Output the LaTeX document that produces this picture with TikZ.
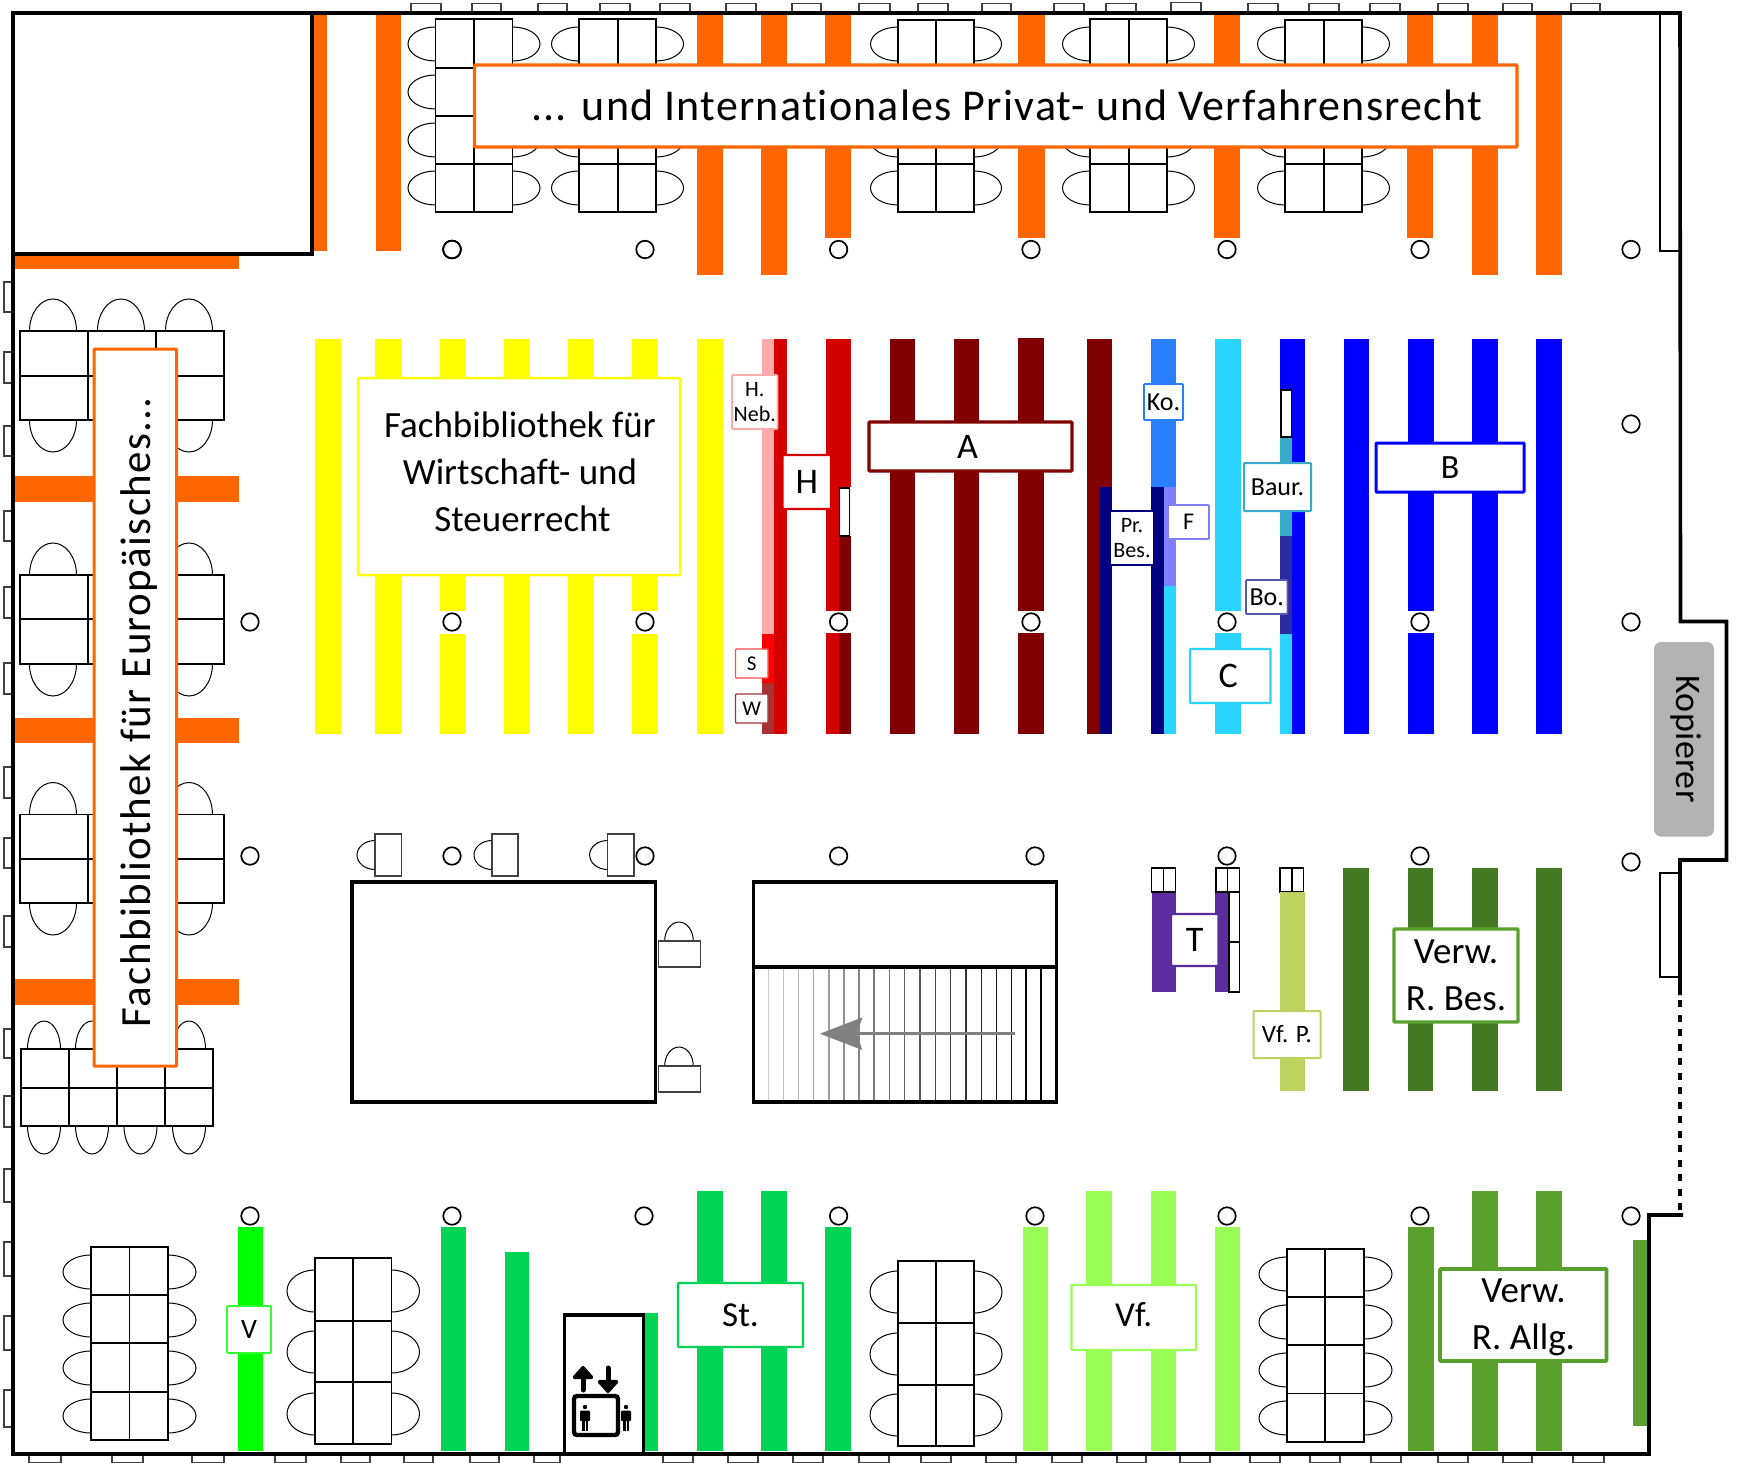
\documentclass[tikz,border=0pt]{standalone}
\usepackage{fontspec}
\setmainfont{Carlito}[Ligatures=CommonOff]
\usetikzlibrary{arrows.meta}
\definecolor{orng}{HTML}{FF6600}
\definecolor{yel}{HTML}{FFFF00}
\definecolor{pink}{HTML}{FFAAAA}
\definecolor{redA}{HTML}{FF0000}
\definecolor{redB}{HTML}{D40000}
\definecolor{brownW}{HTML}{A83232}
\definecolor{maroon}{HTML}{800000}
\definecolor{navy}{HTML}{000080}
\definecolor{koblue}{HTML}{2A7FFF}
\definecolor{lilac}{HTML}{8080FF}
\definecolor{cyanC}{HTML}{2AD4FF}
\definecolor{blueB}{HTML}{0000FF}
\definecolor{baur}{HTML}{37ABC8}
\definecolor{bo}{HTML}{2C2CA0}
\definecolor{purpleT}{HTML}{5B2D9E}
\definecolor{vfp}{HTML}{BCD35F}
\definecolor{dgreen}{HTML}{447821}
\definecolor{mgreen}{HTML}{5AA02C}
\definecolor{lgreen}{HTML}{99FF55}
\definecolor{stgreen}{HTML}{00D455}
\definecolor{vgreen}{HTML}{00FF00}
\definecolor{copier}{HTML}{B3B3B3}
\tikzset{
  x=1pt,y=-1pt,
  winbox/.style={draw=black!75,fill=white,line width=1.1pt},
  chairshape/.style={draw=black,fill=white,line width=1pt},
  tablebox/.style={draw=black,fill=white,line width=1.3pt},
  whitebox/.style={draw=black,fill=white,line width=1.5pt},
  wall/.style={draw=black,line width=3.6pt,line join=miter},
  roombox/.style={draw=black,fill=white,line width=3.6pt},
  pillar/.style={draw=black,fill=white,line width=1.7pt,circle,minimum size=17.5pt,inner sep=0pt},
  lab/.style={fill=white,inner sep=0pt,align=center,text=black,rounded corners=0.8pt},
  labtext/.style={inner sep=0pt,align=center,text=black},
  fs/.style 2 args={font=\fontsize{#1}{#2}\selectfont},
}
\newcommand{\shelf}[5]{\fill[#5] (#1,#3) rectangle (#2,#4);}
\newcommand{\tabrows}[4]{\foreach \ra/\rb in {#4}{\draw[tablebox] (#1,\ra) rectangle (#2,\rb);\draw[tablebox] (#2,\ra) rectangle (#3,\rb);}}
\newcommand{\chairrow}[5]{\foreach \cy in {#5}{\draw[chairshape] (#1,\cy) ellipse [x radius=#3,y radius=#4];\draw[chairshape] (#2,\cy) ellipse [x radius=#3,y radius=#4];}}
\newcommand{\chairsv}[5]{\foreach \cx in {#5}{\draw[chairshape] (\cx,#1) ellipse [x radius=#3,y radius=#4];\draw[chairshape] (\cx,#2) ellipse [x radius=#3,y radius=#4];}}
\newcommand{\person}[1]{\fill[black] (#1,1407) circle [radius=2.2];
  \fill[black,rounded corners=1pt] (#1-5,1410.5) rectangle (#1+5,1421);
  \fill[black] (#1-3.4,1420) rectangle (#1-0.5,1431);
  \fill[black] (#1+0.5,1420) rectangle (#1+3.4,1431);}
\newcommand{\tnode}[7]{%
  \pgfmathsetmacro{\lcx}{(#2+#4)/2}\pgfmathsetmacro{\lcy}{(#3+#5)/2}%
  \pgfmathsetmacro{\lw}{#4-#2}\pgfmathsetmacro{\lh}{#5-#3}%
  \node[lab,draw=#6,minimum width=\lw pt,minimum height=\lh pt,#7] (#1) at (\lcx,\lcy)}
\begin{document}
\begin{tikzpicture}
\useasboundingbox (0,0) rectangle (1737,1463);
\fill[white] (0,0) rectangle (1737,1463);
% windows top
\foreach \a/\b in {411/441,472/501,538/567,600/630,660/690,726/756,792/821,859/890,918/948,982/1011,1054/1084,1106/1136,1248/1278,1309/1339,1370/1400,1438/1468,1503/1532,1571/1600}
  \draw[winbox] (\a,3.5) rectangle (\b,13);
\draw[winbox] (1171,2.5) rectangle (1201,13);
% windows left
\foreach \a/\b in {282/312,352/383,426/456,511/541,587/618,663/694,767/798,838/868,916/947,1029/1058,1096/1127,1169/1202,1242/1276,1316/1350,1390/1427}
  \draw[winbox] (4,\a) rectangle (13,\b);
% windows bottom
\foreach \a/\b in {29/61,112/143,192/224,275/306,341/370,404/433,470/499,534/560,663/693,728/758,793/823,859/889,921/951,986/1016,1052/1082,1117/1146,1180/1210,1250/1280,1310/1340,1371/1401,1438/1468,1503/1532,1573/1604}
  \draw[winbox] (\a,1454) rectangle (\b,1462.5);
% chairs and tables: top
\chairrow{435.5}{512.5}{27.5}{17}{44,92,140,188}
\tabrows{435.5}{474}{512.5}{19/68,68/116,116/164,164/212}
\chairrow{579}{656}{27.5}{17}{44,92,140,188}
\tabrows{579}{618}{656}{19/68,68/116,116/164,164/212}
\chairrow{898}{974}{27.5}{17}{44,92,140,188}
\tabrows{898}{936}{974}{20/68,68/116,116/164,164/212}
\chairrow{1090}{1167}{27.5}{17}{44,92,140,188}
\tabrows{1090}{1129}{1167}{19/68,68/116,116/164,164/212}
\chairrow{1285}{1362}{27.5}{17}{44,92,140,188}
\tabrows{1285}{1324}{1362}{20/68,68/116,116/164,164/212}
% chairs and tables: left
\chairsv{331}{420}{23.5}{32}{53,121,189}
\chairsv{575}{664}{23.5}{32}{53,121,189}
\chairsv{814.5}{903}{23.5}{32}{53,121,189}
\foreach \ya/\yb/\yc in {331/376/420,575/619/664,814.5/859/903}{
  \foreach \xa/\xb in {20/88,88/156,156/224}{
    \draw[tablebox] (\xa,\ya) rectangle (\xb,\yb);
    \draw[tablebox] (\xa,\yb) rectangle (\xb,\yc);}}
\chairsv{1049}{1126}{16.5}{28}{44,92,140.5,189}
\foreach \xa/\xb in {21/69,69/117,117/165,165/213}{
  \draw[tablebox] (\xa,1049) rectangle (\xb,1088);
  \draw[tablebox] (\xa,1088) rectangle (\xb,1126);}
% chairs and tables: bottom
\chairrow{91}{168}{28}{17}{1272,1320,1368,1416}
\tabrows{91}{129.5}{168}{1247/1295,1295/1343,1343/1392,1392/1440}
\chairrow{315}{391.5}{28}{21}{1291,1352,1414}
\tabrows{315}{353}{391.5}{1258/1321,1321/1382,1382/1444}
\chairrow{898}{974}{28}{21}{1292,1354,1415}
\tabrows{898}{936}{974}{1261/1323,1323/1385,1385/1446}
\chairrow{1287}{1364}{28}{17}{1274,1322,1370,1418}
\tabrows{1287}{1325}{1364}{1249/1297,1297/1345,1345/1393.5,1393.5/1442}
% single desks at the big room
\foreach \cxe/\xa/\xb in {375/375/401.6,492/492/518,607.6/607.6/634}{
  \draw[chairshape] (\cxe,855) ellipse [x radius=18,y radius=14.5];
  \draw[tablebox,line width=1.1pt,draw=black!75] (\xa,834) rectangle (\xb,876);}
\foreach \yt/\yb in {941/967,1066/1092}{
  \draw[chairshape] (679,\yt) ellipse [x radius=14.3,y radius=19];
  \draw[tablebox,line width=1.1pt,draw=black!75] (658.5,\yt) rectangle (700.6,\yb);}
% orange shelves
\shelf{313}{327}{15}{251}{orng}
\shelf{376}{401}{15}{251}{orng}
\shelf{15}{239}{256}{269}{orng}
\shelf{15}{239}{476}{502}{orng}
\shelf{15}{239}{718}{743}{orng}
\shelf{15}{239}{979}{1005}{orng}
\foreach \a/\b/\e in {697/723/275,761/787/275,825/851/238,1018/1045/238,1214/1240/238,1407/1433/238,1472/1498/275,1536/1562/275}
  \shelf{\a}{\b}{15}{\e}{orng}
% yellow shelves
\foreach \a/\b in {315/341,375/402,504/530,568/594,697/723}
  \shelf{\a}{\b}{339}{734}{yel}
\foreach \a/\b in {440/465.5,632/658}{
  \shelf{\a}{\b}{339}{611}{yel}
  \shelf{\a}{\b}{634}{734}{yel}}
% red group
\shelf{761.5}{774}{339}{634}{pink}
\shelf{761.5}{774}{634}{683}{redA}
\shelf{761.5}{774}{683}{734}{brownW}
\shelf{774}{786.5}{339}{734}{redB}
\shelf{826}{838.6}{339}{611}{redB}
\shelf{826}{838.6}{633}{734}{redB}
\shelf{838.6}{850.6}{339}{487}{redB}
\shelf{838.6}{850.6}{536}{611}{maroon}
\shelf{838.6}{850.6}{633}{734}{maroon}
\draw[whitebox] (839.5,488) rectangle (849.5,536);
% maroon group
\shelf{890}{915}{339}{734}{maroon}
\shelf{954}{979}{339}{734}{maroon}
\shelf{1018}{1044}{338}{611}{maroon}
\shelf{1018}{1044}{633}{734}{maroon}
\shelf{1087}{1099.5}{339}{734}{maroon}
\shelf{1099.5}{1112}{339}{487}{maroon}
\shelf{1099.5}{1112}{487}{734}{navy}
% blue / cyan group
\shelf{1151}{1176}{339}{487}{koblue}
\shelf{1151}{1164}{487}{734}{navy}
\shelf{1164}{1176}{487}{586}{lilac}
\shelf{1164}{1176}{586}{734}{cyanC}
\shelf{1215}{1240.5}{339}{611}{cyanC}
\shelf{1215}{1240.5}{633}{734}{cyanC}
\shelf{1280}{1304.5}{339}{734}{blueB}
\shelf{1280}{1292}{437}{536}{baur}
\shelf{1280}{1292}{536}{634}{bo}
\shelf{1280}{1292}{634}{734}{cyanC}
\draw[whitebox] (1281,390) rectangle (1291.5,437);
\shelf{1344}{1369}{339}{734}{blueB}
\shelf{1408}{1433.5}{339}{611}{blueB}
\shelf{1408}{1433.5}{633}{734}{blueB}
\shelf{1472}{1498}{339}{734}{blueB}
\shelf{1536}{1562}{339}{734}{blueB}
% T / Vf. P. / Verw. R. Bes.
\shelf{1151.5}{1175.5}{892}{992}{purpleT}
\shelf{1215}{1229}{892}{992}{purpleT}
\foreach \a/\b in {1151.5/1163.5,1163.5/1175.5,1216/1227.6,1227.6/1239.4,1280/1292,1292/1303.7}
  \draw[whitebox] (\a,868) rectangle (\b,892);
\draw[whitebox] (1229,892) rectangle (1239.4,942);
\draw[whitebox] (1229,942) rectangle (1239.4,992);
\shelf{1280}{1304.5}{892}{1091}{vfp}
\foreach \a/\b in {1343/1368.7,1407.7/1433,1472/1497.6,1536/1561.8}
  \shelf{\a}{\b}{867.5}{1091}{dgreen}
% bottom shelves
\shelf{238}{262.5}{1227}{1451}{vgreen}
\shelf{440.5}{465.5}{1227}{1451}{stgreen}
\shelf{504.5}{529}{1252}{1451}{stgreen}
\shelf{645}{657.7}{1313}{1451}{stgreen}
\shelf{697}{723}{1191}{1451}{stgreen}
\shelf{761}{787}{1191}{1451}{stgreen}
\shelf{825}{851}{1227}{1451}{stgreen}
\shelf{1022.5}{1048}{1227}{1451}{lgreen}
\shelf{1086}{1112}{1191}{1451}{lgreen}
\shelf{1150.5}{1176}{1191}{1451}{lgreen}
\shelf{1215}{1240}{1227}{1451}{lgreen}
\shelf{1408}{1433.7}{1227}{1451}{mgreen}
\shelf{1472}{1497.6}{1191}{1451}{mgreen}
\shelf{1536}{1562}{1191}{1451}{mgreen}
\shelf{1633.3}{1646.7}{1240}{1426}{mgreen}
% pillars
\node[pillar] (p01) at (452,249.5) {};
\node[pillar] (p02) at (645,249.5) {};
\node[pillar] (p03) at (838.6,249.5) {};
\node[pillar] (p04) at (1031,249.5) {};
\node[pillar] (p05) at (1227,249.5) {};
\node[pillar] (p06) at (1420,249.5) {};
\node[pillar] (p07) at (1631,249.5) {};
\node[pillar] (p08) at (1631,424) {};
\node[pillar] (p09) at (250,622) {};
\node[pillar] (p10) at (452,622) {};
\node[pillar] (p11) at (645,622) {};
\node[pillar] (p12) at (838.6,622) {};
\node[pillar] (p13) at (1031,622) {};
\node[pillar] (p14) at (1227,622) {};
\node[pillar] (p15) at (1420,622) {};
\node[pillar] (p16) at (1631,622) {};
\node[pillar] (p17) at (250,856) {};
\node[pillar] (p18) at (452,856) {};
\node[pillar] (p19) at (645,856) {};
\node[pillar] (p20) at (838.6,856) {};
\node[pillar] (p21) at (1035,856) {};
\node[pillar] (p22) at (1227,856) {};
\node[pillar] (p23) at (1420,856) {};
\node[pillar] (p24) at (1631,862) {};
\node[pillar] (p25) at (250,1216) {};
\node[pillar] (p26) at (452,1216) {};
\node[pillar] (p27) at (644,1216) {};
\node[pillar] (p28) at (838.6,1216) {};
\node[pillar] (p29) at (1035,1216) {};
\node[pillar] (p30) at (1227,1216) {};
\node[pillar] (p31) at (1420,1216) {};
\node[pillar] (p32) at (1631,1216) {};
% rooms
\draw[roombox,line width=4.2pt] (13,13) rectangle (312,254);
\draw[roombox] (352,882) rectangle (655.5,1102);
\draw[roombox] (753.5,882) rectangle (1056.5,1102);
\foreach \n [count=\i from 0] in {768.5,783.5,798.5,813.5,829,844,859,874,889.5,904.5,920,935.5,950.5,966,981.5,996.5,1011.5,1026,1041}{
  \pgfmathsetmacro{\shade}{min(100,20+\i*4.6)}
  \draw[black!\shade,line width=1.6pt] (\n,969) -- (\n,1100);}
\draw[draw=black,line width=3.6pt] (753.5,967) -- (1056.5,967);
\draw[roombox,fill=none] (753.5,882) rectangle (1056.5,1102);
\coordinate (arrowstart) at (1015,1033.7);
\coordinate (arrowtip) at (820,1033.7);
\draw[draw=black!50,line width=3pt,-{Stealth[length=42pt,width=32pt,inset=5pt]}] (arrowstart) -- (arrowtip);
% elevator
\draw[roombox] (564.5,1315) rectangle (643.3,1454);
\draw[draw=black,line width=4.4pt,rounded corners=3pt] (574,1396) rectangle (618,1435);
\person{585}
\person{626}
\coordinate (upstart) at (583,1390);
\coordinate (uptip) at (583,1366);
\coordinate (downstart) at (608,1368);
\coordinate (downtip) at (608,1393);
\draw[draw=black,line width=5pt,line cap=round,-{Triangle[length=14pt,width=24pt,round]}] (upstart) -- (uptip);
\draw[draw=black,line width=5pt,line cap=round,-{Triangle[length=14pt,width=24pt,round]}] (downstart) -- (downtip);
% right-hand boxes and walls
\draw[whitebox] (1660,13) rectangle (1680,251);
\draw[whitebox] (1660,873) rectangle (1680,977);
\draw[wall] (1680,995) -- (1680,860) -- (1726.5,860) -- (1726.5,621.5) -- (1680.5,621.5) -- (1680,13) -- (13,13) -- (13,1454) -- (1649,1454) -- (1649,1215) -- (1683,1215);
\draw[draw=black,line width=3.6pt,dash pattern=on 7pt off 7.5pt] (1680,1000) -- (1680,1213);
\fill[copier,rounded corners=7pt] (1654,642) rectangle (1714,836.5);
% labels
\tnode{lTop}{474.5}{65}{1517}{147}{orng}{line width=3.2pt,fs={44}{48}} {\raisebox{2pt}{\addfontfeature{LetterSpace=2.7}\hspace*{22pt}... und Internationales Privat- und Verfahrensrecht}};
\tnode{lEuro}{94}{349}{176.5}{1066}{orng}{line width=3pt} {};
\node[rotate=90,labtext,fs={43}{48}] (lEuroText) at (139,712) {\addfontfeature{LetterSpace=3.2}Fachbibliothek für Europäisches...};
\tnode{lYel}{358}{378}{680}{575}{yel}{line width=2.5pt} {};
\node[labtext,fs={37}{47}] (lYelText) at (520,472) {Fachbibliothek für\\Wirtschaft- und\\\hspace*{5pt}Steuerrecht};
\tnode{lHNeb}{732}{375}{777.5}{429}{pink}{line width=1.6pt,fs={22}{25}} {H.\\Neb.};
\tnode{lH}{782.5}{455}{831}{509}{redB}{line width=2.4pt,fs={36}{40}} {H};
\tnode{lA}{869}{422}{1072}{471}{maroon}{line width=3.2pt,fs={36}{40}} {A\hspace*{6pt}};
\tnode{lS}{735.5}{649}{768}{678}{red!70!white}{line width=1.4pt,fs={21}{24}} {S};
\tnode{lW}{735.5}{694}{768}{723}{brownW}{line width=1.4pt,fs={21}{24}} {W};
\tnode{lKo}{1144}{384}{1183}{420}{koblue}{line width=1.6pt,fs={26}{28}} {Ko.};
\tnode{lPr}{1110}{511}{1154}{565}{navy}{line width=1.6pt,fs={22}{25.5}} {Pr.\\Bes.};
\tnode{lF}{1168}{505}{1209}{539}{lilac}{line width=1.6pt,fs={24}{28}} {F};
\tnode{lBaur}{1244}{463}{1311}{511}{baur}{line width=2pt,fs={26}{28}} {Baur.};
\tnode{lBo}{1246}{580}{1287.5}{614}{bo!80!white}{line width=1.6pt,fs={26}{28}} {Bo.};
\tnode{lC}{1190}{649}{1270.5}{703}{cyanC}{line width=2.4pt,fs={36}{40}} {C\hspace*{4pt}};
\tnode{lB}{1376}{443}{1524}{492}{blueB}{line width=3pt,fs={34}{40}} {B};
\tnode{lT}{1171}{914}{1218.5}{966}{purpleT}{line width=2.4pt,fs={36}{40}} {\raisebox{-2pt}{T}};
\tnode{lVfP}{1253.5}{1011}{1320.5}{1058}{vfp}{line width=2pt,fs={25}{30}} {Vf. P.};
\tnode{lVerwB}{1394}{929}{1518}{1022}{mgreen}{line width=3.4pt,fs={37}{47}} {Verw.\\R. Bes.};
\tnode{lV}{227}{1306}{271}{1353}{vgreen!80!white}{line width=1.8pt,fs={28}{32}} {V};
\tnode{lSt}{678}{1283}{803}{1347}{stgreen}{line width=2.4pt,fs={35}{40}} {St.};
\tnode{lVf}{1071.5}{1285}{1196}{1350}{lgreen}{line width=2.4pt,fs={35}{40}} {\raisebox{6pt}{Vf.}};
\tnode{lVerwA}{1440}{1269}{1606.5}{1361}{mgreen}{line width=3.6pt} {};
\node[labtext,fs={37}{47}] (lVerwAText) at (1523.5,1317.5) {Verw.\\R. Allg.};
\node[rotate=-90,labtext,fs={36}{40}] (lKop) at (1686,739) {\addfontfeature{LetterSpace=1}Kopierer};
\end{tikzpicture}
\end{document}
